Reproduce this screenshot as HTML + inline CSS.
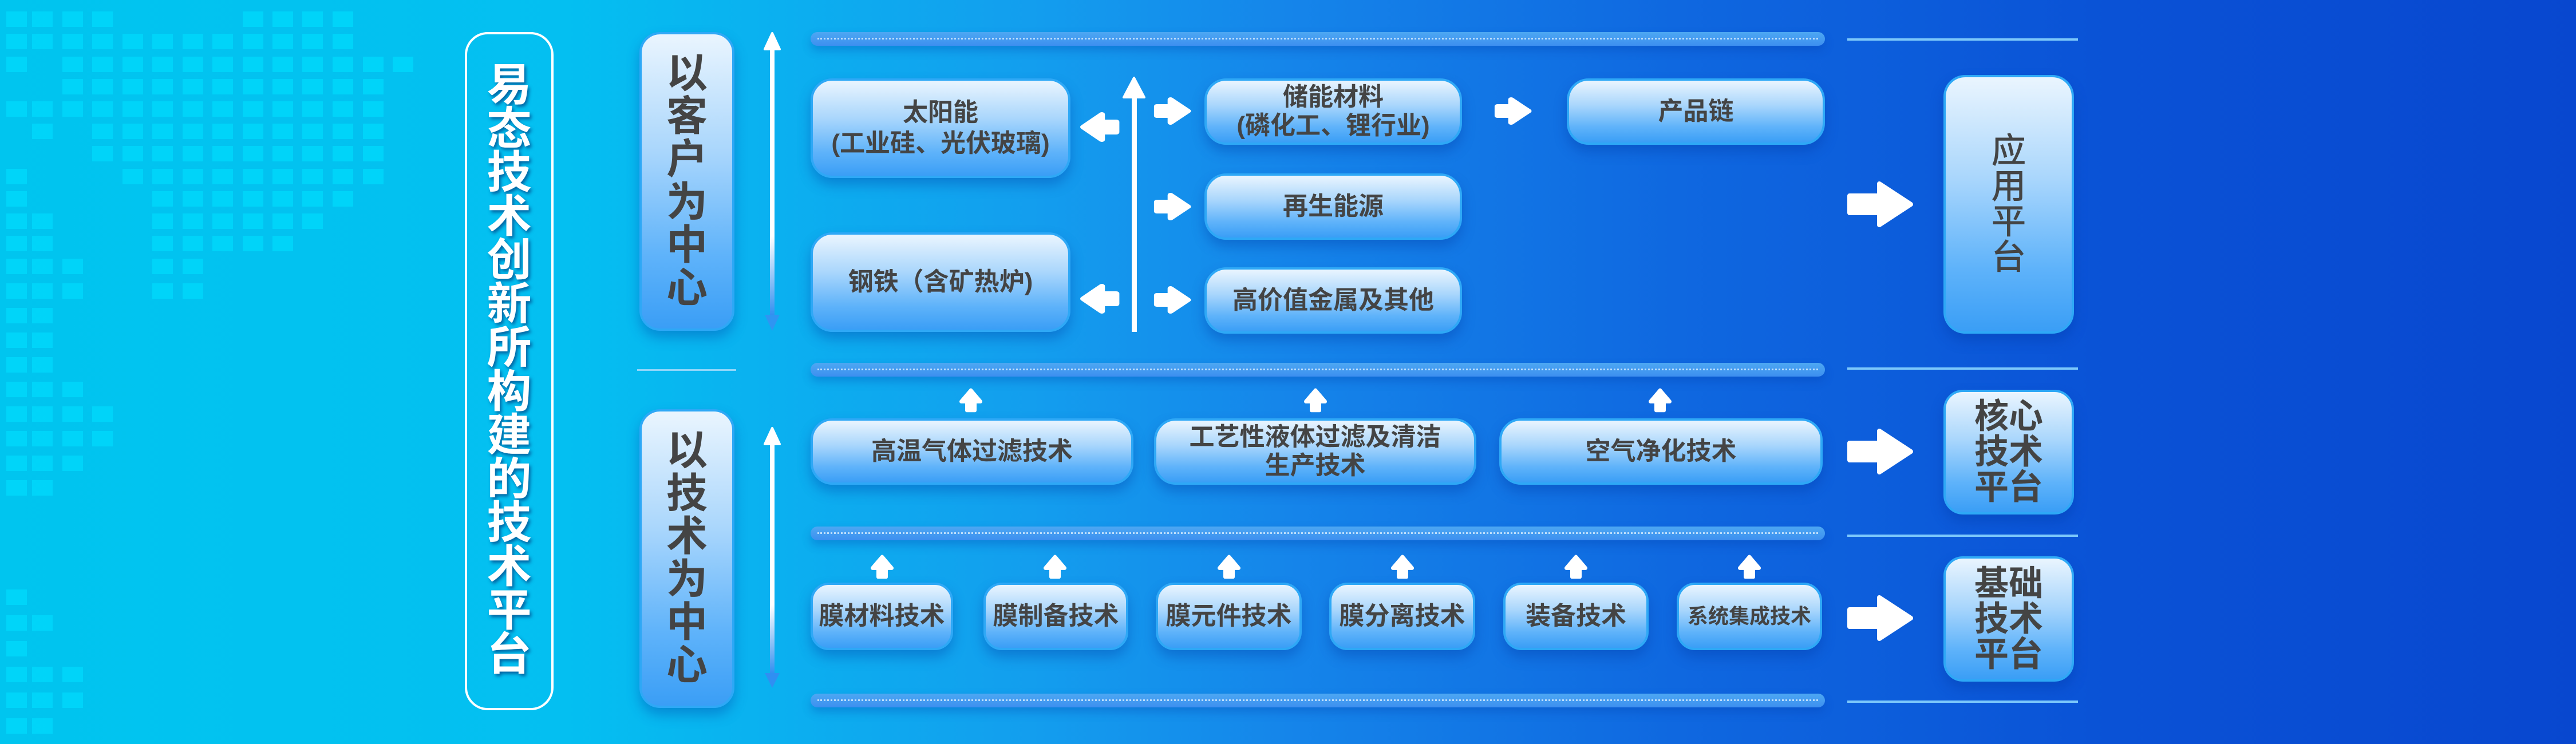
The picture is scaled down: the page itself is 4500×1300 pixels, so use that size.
<!DOCTYPE html>
<html><head><meta charset="utf-8">
<style>
*{margin:0;padding:0;box-sizing:border-box}
body{width:4500px;height:1300px;overflow:hidden;position:relative;
background:linear-gradient(90deg,#00c5ef 0%,#04bff1 22%,#139eee 40%,#1585ea 50%,#0f68e0 65%,#0a52d6 82%,#0847cf 100%);
font-family:"Liberation Sans","Noto Sans CJK SC",sans-serif;}
.sq{position:absolute;width:36px;height:27px;background:#00dafc;opacity:.75}
.box{position:absolute;border-radius:38px;background:linear-gradient(180deg,#eaf5fe 0%,#a9d6fc 40%,#5fb3fa 75%,#3a9ef6 100%);
border:4px solid #2ea8f6;box-shadow:0 12px 22px rgba(0,55,160,.35);display:flex;align-items:center;justify-content:center;
text-align:center;color:#444;font-weight:bold;font-size:44px;line-height:54px;font-family:"Liberation Sans","Noto Sans CJK SC",sans-serif}
.vt{flex-direction:column}
.bar{position:absolute;left:1416px;width:1772px;height:24px;border-radius:12px;
background:linear-gradient(180deg,#4da8f2,#3d8ff0);box-shadow:0 8px 16px rgba(0,60,170,.3)}
.bar:after{content:"";position:absolute;left:12px;right:12px;top:10px;border-top:3px dotted rgba(220,240,255,.8)}
.hl{position:absolute;left:3227px;width:403px;height:4px;background:#7cc8fb}
</style></head><body>
<div id="sqs"></div>
<script>
var cols=[11,56,109,161,214,266,319,371,424,476,528,581,634,686];
var rowsY=[20,59,99,138,177,216,255,295,334,373,412,452,495,538,581,624,667,710,753,796,839,1030,1075,1120,1165,1210,1255];
function r(a,b){var o=[];for(var i=a;i<=b;i++)o.push(i);return o}
var pat=[[0,1,2,3,8,9,10,11],r(0,11),[0].concat(r(2,13)),r(2,12),r(0,12),[1].concat(r(3,12)),r(3,12),[0].concat(r(4,12)),[0].concat(r(5,11)),[0,1].concat(r(5,10)),[0,1].concat(r(5,9)),[0,1,2,5,6],[0,1,2,5,6],[0,1],[0,1],[0,1],[0,1,2],[0,1,2,3],[0,1,2,3],[0,1,2],[0,1],[0],[0,1],[0],[0,1,2],[0,1,2],[0,1]];
var h='';for(var i=0;i<pat.length;i++){for(var j=0;j<pat[i].length;j++){h+='<div class="sq" style="left:'+cols[pat[i][j]]+'px;top:'+rowsY[i]+'px"></div>';}}
document.getElementById('sqs').innerHTML=h;
</script>

<!-- title -->
<div style="position:absolute;left:812px;top:56px;width:155px;height:1185px;border:4px solid #fff;border-radius:40px;"></div>
<div style="position:absolute;left:812px;top:110px;width:155px;text-align:center;color:#fff;font-weight:bold;font-size:78px;line-height:76.5px;text-shadow:3px 4px 6px rgba(0,40,110,.6);font-family:'Liberation Sans','Noto Sans CJK SC',sans-serif">易<br>态<br>技<br>术<br>创<br>新<br>所<br>构<br>建<br>的<br>技<br>术<br>平<br>台</div>

<div class="box vt" style="left:1117px;top:56px;width:166px;height:522px;font-size:72px;line-height:75px;border-radius:36px">以<br>客<br>户<br>为<br>中<br>心</div>
<div style="position:absolute;left:1113px;top:645px;width:173px;height:3px;background:#8fd6fa"></div>
<div class="box vt" style="left:1117px;top:715px;width:166px;height:522px;font-size:72px;line-height:75px;border-radius:36px">以<br>技<br>术<br>为<br>中<br>心</div>

<div class="bar" style="top:56px"></div>
<div class="bar" style="top:634px"></div>
<div class="bar" style="top:920px"></div>
<div class="bar" style="top:1212px"></div>
<div class="hl" style="top:67px"></div>
<div class="hl" style="top:642px"></div>
<div class="hl" style="top:934px"></div>
<div class="hl" style="top:1224px"></div>

<div class="box" style="left:1416px;top:137px;width:454px;height:174px">太阳能<br>(工业硅、光伏玻璃)</div>
<div class="box" style="left:1416px;top:406px;width:454px;height:174px">钢铁（含矿热炉)</div>
<div class="box" style="left:2104px;top:137px;width:450px;height:116px;line-height:50px">储能材料<br>(磷化工、锂行业)</div>
<div class="box" style="left:2104px;top:303px;width:450px;height:116px">再生能源</div>
<div class="box" style="left:2104px;top:467px;width:450px;height:116px">高价值金属及其他</div>
<div class="box" style="left:2737px;top:137px;width:451px;height:116px">产品链</div>

<div class="box vt" style="left:3395px;top:131px;width:228px;height:452px;font-size:60px;line-height:62px;font-weight:normal;-webkit-text-stroke:1px #444">应<br>用<br>平<br>台</div>
<div class="box vt" style="left:3395px;top:681px;width:228px;height:218px;font-size:60px;line-height:62px;border-radius:34px">核心<br>技术<br>平台</div>
<div class="box vt" style="left:3395px;top:972px;width:228px;height:219px;font-size:60px;line-height:62px;border-radius:34px">基础<br>技术<br>平台</div>

<div class="box" style="left:1416px;top:731px;width:564px;height:116px">高温气体过滤技术</div>
<div class="box" style="left:2016px;top:731px;width:563px;height:116px;line-height:50px">工艺性液体过滤及清洁<br>生产技术</div>
<div class="box" style="left:2619px;top:731px;width:565px;height:116px">空气净化技术</div>

<div class="box" style="left:1416px;top:1018px;width:249px;height:118px;border-radius:32px">膜材料技术</div>
<div class="box" style="left:1718px;top:1018px;width:253px;height:118px;border-radius:32px">膜制备技术</div>
<div class="box" style="left:2019px;top:1018px;width:255px;height:118px;border-radius:32px">膜元件技术</div>
<div class="box" style="left:2322px;top:1018px;width:255px;height:118px;border-radius:32px">膜分离技术</div>
<div class="box" style="left:2626px;top:1018px;width:254px;height:118px;border-radius:32px">装备技术</div>
<div class="box" style="left:2929px;top:1018px;width:254px;height:118px;border-radius:32px;font-size:36px">系统集成技术</div>

<svg width="4500" height="1300" style="position:absolute;left:0;top:0" xmlns="http://www.w3.org/2000/svg">
<defs>
<linearGradient id="fd" x1="0" y1="0" x2="0" y2="1"><stop offset="0" stop-color="#fff"/><stop offset=".7" stop-color="#fff"/><stop offset="1" stop-color="#2b8cf0"/></linearGradient>
<g id="ra"><polygon points="0,-7 14,-7 14,-17 32,0 14,17 14,7 0,7" fill="#fff" stroke="#fff" stroke-width="6" stroke-linejoin="round"/></g>
<g id="ba"><polygon points="3,-15 55,-15 55,-36 110,0 55,36 55,15 3,15" fill="#fff" stroke="#fff" stroke-width="8" stroke-linejoin="round"/></g>
</defs>
<!-- vertical arrows -->
<rect x="1345" y="80" width="8" height="475" fill="url(#fd)"/>
<polygon points="1349,58 1336,86 1362,86" fill="#fff" stroke="#fff" stroke-width="4" stroke-linejoin="round"/>
<polygon points="1349,578 1336,550 1362,550" fill="#2f95f2"/>
<rect x="1345" y="770" width="8" height="410" fill="url(#fd)"/>
<polygon points="1349,748 1336,776 1362,776" fill="#fff" stroke="#fff" stroke-width="4" stroke-linejoin="round"/>
<polygon points="1349,1202 1336,1176 1362,1176" fill="#2f8ff2"/>
<rect x="1977" y="160" width="9" height="420" fill="#fff"/>
<polygon points="1981,136 1963,170 1999,170" fill="#fff" stroke="#fff" stroke-width="4" stroke-linejoin="round"/>
<!-- left arrows -->
<use href="#ra" transform="translate(1950,222) scale(-1.8,1.3)"/>
<use href="#ra" transform="translate(1950,522) scale(-1.8,1.3)"/>
<!-- right small arrows -->
<use href="#ra" transform="translate(2021,194) scale(1.7,1.2)"/>
<use href="#ra" transform="translate(2021,361) scale(1.7,1.2)"/>
<use href="#ra" transform="translate(2021,524) scale(1.7,1.2)"/>
<use href="#ra" transform="translate(2616,194) scale(1.7,1.2)"/>
<!-- up arrows -->
<use href="#ra" transform="translate(1696,717) rotate(-90) scale(1.1,1)"/>
<use href="#ra" transform="translate(2298,717) rotate(-90) scale(1.1,1)"/>
<use href="#ra" transform="translate(2900,717) rotate(-90) scale(1.1,1)"/>
<use href="#ra" transform="translate(1541,1008) rotate(-90) scale(1.1,1)"/>
<use href="#ra" transform="translate(1843,1008) rotate(-90) scale(1.1,1)"/>
<use href="#ra" transform="translate(2147,1008) rotate(-90) scale(1.1,1)"/>
<use href="#ra" transform="translate(2450,1008) rotate(-90) scale(1.1,1)"/>
<use href="#ra" transform="translate(2753,1008) rotate(-90) scale(1.1,1)"/>
<use href="#ra" transform="translate(3056,1008) rotate(-90) scale(1.1,1)"/>
<!-- big arrows -->
<use href="#ba" transform="translate(3228,357)"/>
<use href="#ba" transform="translate(3228,789)"/>
<use href="#ba" transform="translate(3228,1080)"/>
</svg>
</body></html>
